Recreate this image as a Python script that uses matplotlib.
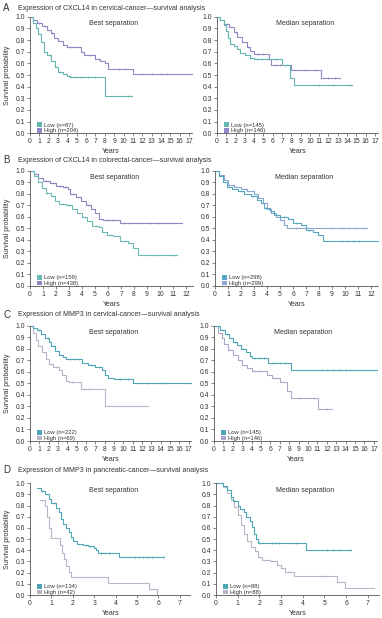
import matplotlib
matplotlib.use("Agg")
import matplotlib.pyplot as plt
import numpy as np
from matplotlib.patches import Patch

plt.rcParams['font.family'] = ['Liberation Sans', 'DejaVu Sans']

# ---- data: (times, survival after each time), censor times ----
# A  CXCL14 cervical, best
a_best_low_t = [0, 0.3, 0.6, 0.9, 1.2, 1.5, 1.8, 2.2, 2.7, 3.0, 3.5, 4.0, 4.3, 8.0, 10.9]
a_best_low_s = [1.0, 0.95, 0.90, 0.85, 0.78, 0.70, 0.67, 0.62, 0.57, 0.53, 0.51, 0.49, 0.48, 0.32, 0.32]
a_best_low_c = [2.1, 3.2, 4.2, 4.8, 5.5, 6.2, 7.0, 10.5]
a_best_high_t = [0, 0.3, 0.8, 1.3, 1.8, 2.2, 2.6, 3.0, 3.5, 4.0, 5.5, 5.8, 7.0, 7.5, 8.0, 8.3, 11.0, 17.3]
a_best_high_s = [1.0, 0.97, 0.95, 0.92, 0.89, 0.86, 0.82, 0.79, 0.76, 0.74, 0.70, 0.67, 0.64, 0.62, 0.60, 0.55, 0.51, 0.51]
a_best_high_c = [1.0, 1.6, 2.4, 4.3, 4.8, 6.4, 7.4, 9.5, 10.2, 12.0, 13.0, 14.0, 14.7]
# A  CXCL14 cervical, median
a_med_low_t = [0, 0.3, 0.7, 1.0, 1.2, 1.4, 1.8, 2.1, 2.5, 3.0, 3.5, 4.0, 7.0, 7.9, 8.3, 14.5]
a_med_low_s = [1.0, 0.97, 0.93, 0.88, 0.82, 0.77, 0.75, 0.72, 0.69, 0.67, 0.65, 0.64, 0.59, 0.47, 0.41, 0.41]
a_med_low_c = [3.6, 4.3, 4.8, 5.5, 6.3, 7.4, 11.0, 12.5, 14.3]
a_med_high_t = [0, 0.3, 0.8, 1.3, 1.8, 2.2, 2.7, 3.2, 3.6, 4.0, 5.6, 5.8, 8.0, 11.2, 13.2]
a_med_high_s = [1.0, 0.97, 0.94, 0.91, 0.87, 0.83, 0.78, 0.74, 0.71, 0.68, 0.64, 0.59, 0.54, 0.47, 0.47]
a_med_high_c = [1.1, 2.0, 3.3, 4.4, 5.0, 6.2, 6.8, 9.5, 10.5, 12.0, 12.7]

# B  CXCL14 colorectal, best
b_best_low_t = [0, 0.3, 0.6, 0.9, 1.2, 1.6, 1.9, 2.2, 2.8, 3.2, 3.6, 4.0, 4.4, 4.8, 5.3, 5.5, 5.9, 6.4, 6.9, 7.5, 7.9, 8.3, 11.3]
b_best_low_s = [1.0, 0.95, 0.90, 0.85, 0.81, 0.78, 0.74, 0.71, 0.70, 0.67, 0.63, 0.60, 0.56, 0.52, 0.51, 0.47, 0.44, 0.43, 0.39, 0.37, 0.33, 0.27, 0.27]
b_best_low_c = [1.3, 2.5, 3.0, 4.2, 5.1, 6.2, 7.6, 9.5, 10.9, 11.1]
b_best_high_t = [0, 0.3, 0.6, 1.0, 1.5, 2.0, 2.5, 2.9, 3.1, 3.5, 3.9, 4.3, 4.7, 5.0, 5.3, 5.6, 6.9, 11.7]
b_best_high_s = [1.0, 0.97, 0.94, 0.91, 0.89, 0.87, 0.86, 0.84, 0.80, 0.77, 0.74, 0.70, 0.67, 0.63, 0.58, 0.57, 0.55, 0.55]
b_best_high_c = [1.2, 1.8, 2.3, 2.7, 3.3, 4.5, 6.0, 6.4, 7.2, 7.6, 8.5, 9.3, 9.9, 10.4, 11.0]
# B  CXCL14 colorectal, median
b_med_low_t = [0, 0.3, 0.6, 0.9, 1.3, 1.8, 2.2, 2.8, 3.2, 3.5, 3.8, 4.2, 4.5, 5.0, 5.6, 6.0, 6.6, 7.0, 7.5, 7.9, 8.3, 12.5]
b_med_low_s = [1.0, 0.95, 0.90, 0.86, 0.84, 0.82, 0.80, 0.78, 0.75, 0.72, 0.68, 0.65, 0.62, 0.60, 0.58, 0.55, 0.53, 0.49, 0.47, 0.44, 0.39, 0.39]
b_med_low_c = [1.1, 2.0, 2.9, 3.9, 5.3, 6.3, 7.2, 9.8, 10.2, 10.6, 11.1]
b_med_high_t = [0, 0.3, 0.7, 1.0, 1.5, 2.0, 2.5, 3.0, 3.3, 3.7, 4.0, 4.3, 4.7, 5.0, 5.3, 5.5, 11.7]
b_med_high_s = [1.0, 0.96, 0.92, 0.88, 0.86, 0.84, 0.82, 0.80, 0.76, 0.72, 0.67, 0.63, 0.60, 0.57, 0.53, 0.50, 0.50]
b_med_high_c = [1.4, 2.4, 2.9, 6.2, 7.0, 9.0, 9.8, 10.3, 10.8, 11.4]

# C  MMP3 cervical, best
c_best_low_t = [0, 0.3, 0.8, 1.2, 1.6, 2.0, 2.3, 2.7, 3.1, 3.5, 3.9, 5.6, 6.2, 7.0, 7.7, 8.0, 8.4, 9.0, 11.0, 17.3]
c_best_low_s = [1.0, 0.98, 0.96, 0.93, 0.89, 0.86, 0.82, 0.78, 0.75, 0.73, 0.71, 0.68, 0.66, 0.64, 0.62, 0.57, 0.55, 0.54, 0.50, 0.50]
c_best_low_c = [1.0, 1.9, 2.6, 4.3, 4.8, 5.3, 6.5, 7.4, 9.6, 10.5, 11.6, 12.5, 13.3, 14.0, 14.5, 17.0]
c_best_high_t = [0, 0.3, 0.6, 0.9, 1.3, 1.7, 2.0, 2.5, 3.1, 3.4, 3.9, 4.2, 5.5, 8.0, 12.7]
c_best_high_s = [1.0, 0.94, 0.88, 0.82, 0.77, 0.71, 0.67, 0.64, 0.62, 0.57, 0.52, 0.51, 0.45, 0.30, 0.30]
c_best_high_c = [2.8, 4.5, 5.8, 6.3]
# C  MMP3 cervical, median
c_med_low_t = [0, 0.6, 1.2, 1.6, 2.0, 2.4, 2.9, 3.4, 3.8, 4.0, 5.7, 8.2, 17.3]
c_med_low_s = [1.0, 0.96, 0.93, 0.89, 0.86, 0.83, 0.80, 0.77, 0.74, 0.72, 0.68, 0.62, 0.62]
c_med_low_c = [1.0, 1.4, 2.2, 3.1, 4.4, 4.9, 5.3, 6.3, 7.0, 7.6, 11.5, 12.0, 12.7, 13.4, 14.0, 14.5]
c_med_high_t = [0, 0.4, 0.8, 1.1, 1.5, 2.0, 2.5, 3.0, 3.5, 4.0, 5.6, 6.2, 7.0, 7.8, 8.2, 11.1, 12.6]
c_med_high_s = [1.0, 0.94, 0.89, 0.84, 0.79, 0.75, 0.70, 0.66, 0.63, 0.61, 0.57, 0.55, 0.51, 0.43, 0.37, 0.28, 0.28]
c_med_high_c = [4.3, 4.9, 6.4, 9.2, 10.6, 12.0]

# D  MMP3 pancreatic, best
d_best_low_t = [0.35, 0.5, 0.7, 0.9, 1.0, 1.2, 1.35, 1.45, 1.55, 1.7, 1.8, 1.9, 2.0, 2.2, 2.5, 2.7, 3.0, 3.1, 3.2, 4.15, 6.25]
d_best_low_s = [0.96, 0.93, 0.90, 0.86, 0.82, 0.78, 0.74, 0.68, 0.64, 0.60, 0.56, 0.52, 0.48, 0.46, 0.45, 0.44, 0.42, 0.40, 0.38, 0.34, 0.34]
d_best_low_c = [0.55, 1.1, 1.9, 2.6, 2.8, 3.3, 3.5, 3.7, 4.9, 5.1, 5.3, 5.5, 5.7, 6.2]
d_best_high_t = [0.45, 0.7, 0.8, 0.9, 1.0, 1.4, 1.5, 1.6, 1.7, 1.8, 1.9, 3.65, 5.55, 5.95]
d_best_high_s = [0.85, 0.80, 0.70, 0.60, 0.51, 0.45, 0.38, 0.32, 0.26, 0.21, 0.16, 0.11, 0.05, 0.0]
d_best_high_c = []
# D  MMP3 pancreatic, median
d_med_low_t = [0, 0.3, 0.5, 0.7, 0.8, 1.0, 1.1, 1.3, 1.4, 1.55, 1.65, 1.75, 1.85, 1.95, 4.15, 6.25]
d_med_low_s = [1.0, 0.98, 0.94, 0.88, 0.84, 0.80, 0.77, 0.74, 0.70, 0.66, 0.61, 0.55, 0.50, 0.47, 0.40, 0.40]
d_med_low_c = [2.0, 2.6, 2.7, 2.9, 3.4, 3.7, 5.1, 5.4, 5.7, 6.2]
d_med_high_t = [0, 0.3, 0.5, 0.7, 0.85, 1.0, 1.15, 1.3, 1.45, 1.6, 1.8, 1.95, 2.1, 2.5, 2.8, 3.0, 3.2, 3.6, 5.6, 5.95, 7.3]
d_med_high_s = [1.0, 0.97, 0.91, 0.85, 0.79, 0.72, 0.63, 0.55, 0.48, 0.43, 0.39, 0.34, 0.31, 0.30, 0.27, 0.24, 0.21, 0.17, 0.12, 0.06, 0.06]
d_med_high_c = [2.2, 3.3, 3.4, 4.9]

titles = [
    "Expression of CXCL14 in cervical-cancer\u2014survival analysis",
    "Expression of CXCL14 in colorectal-cancer\u2014survival analysis",
    "Expression of MMP3 in cervical-cancer\u2014survival analysis",
    "Expression of MMP3 in pancreatic-cancer\u2014survival analysis",
]
letters = ["A", "B", "C", "D"]
legend_labels = [
    [("Low (n=87)", "High (n=204)"), ("Low (n=145)", "High (n=146)")],
    [("Low (n=159)", "High (n=438)"), ("Low (n=298)", "High (n=299)")],
    [("Low (n=222)", "High (n=69)"), ("Low (n=145)", "High (n=146)")],
    [("Low (n=134)", "High (n=42)"), ("Low (n=88)", "High (n=88)")],
]
curves = [
    [((a_best_low_t, a_best_low_s, a_best_low_c), (a_best_high_t, a_best_high_s, a_best_high_c)),
     ((a_med_low_t, a_med_low_s, a_med_low_c), (a_med_high_t, a_med_high_s, a_med_high_c))],
    [((b_best_low_t, b_best_low_s, b_best_low_c), (b_best_high_t, b_best_high_s, b_best_high_c)),
     ((b_med_low_t, b_med_low_s, b_med_low_c), (b_med_high_t, b_med_high_s, b_med_high_c))],
    [((c_best_low_t, c_best_low_s, c_best_low_c), (c_best_high_t, c_best_high_s, c_best_high_c)),
     ((c_med_low_t, c_med_low_s, c_med_low_c), (c_med_high_t, c_med_high_s, c_med_high_c))],
    [((d_best_low_t, d_best_low_s, d_best_low_c), (d_best_high_t, d_best_high_s, d_best_high_c)),
     ((d_med_low_t, d_med_low_s, d_med_low_c), (d_med_high_t, d_med_high_s, d_med_high_c))],
]
xmax = [17, 12, 17, 7]
xlims = [17.3, 12.5, 17.3, 7.5]

low_colors = ['#63b5ae', '#6dbbb4', '#4fa5b5', '#4fa5b5']
high_colors = ['#9089c6', '#8e86c2', '#b9b5c9', '#b9b5c9']
low_colors_r = ['#63b5ae', '#5aa5c2', '#4fa5b5', '#4fa5b5']
high_colors_r = ['#9089c6', '#8aa6d2', '#ada7cc', '#b9b5c9']

# axes placement in pixels: (left x0, right x0, y of 1.0, y of 0.0, px per year left, right)
W, H = 382, 618
rows = [
    (30, 217, 16.7, 133.3, 9.35, 9.29),
    (30, 215, 170.7, 286.0, 13.0, 13.0),
    (30, 214, 325.7, 441.0, 9.33, 9.4),
    (30, 216, 483.3, 595.0, 21.4, 21.67),
]
title_y = [8, 160, 315, 470]

fig = plt.figure(figsize=(W / 100, H / 100), dpi=100)
txt = '#333333'

for r in range(4):
    xl, xr, ytop, ybot, pl, pr = rows[r]
    fig.text(3 / W, 1 - title_y[r] / H, letters[r], fontsize=7, color=txt, va='center', ha='left')
    fig.text(18 / W, 1 - title_y[r] / H, titles[r], fontsize=5.0, color=txt, va='center', ha='left')
    for c in range(2):
        x0 = xl if c == 0 else xr
        ppy = pl if c == 0 else pr
        ax = fig.add_axes([x0 / W, 1 - ybot / H, xlims[r] * ppy / W, (ybot - ytop) / H])
        lc = low_colors[r] if c == 0 else low_colors_r[r]
        hc = high_colors[r] if c == 0 else high_colors_r[r]
        (lt, ls, lcen), (ht, hs, hcen) = curves[r][c]
        for t, s, cen, col in [(ht, hs, hcen, hc), (lt, ls, lcen, lc)]:
            t = np.array(t)
            s = np.array(s)
            ax.step(t, s, where='post', color=col, lw=0.8, clip_on=False)
            if len(cen):
                idx = np.searchsorted(t, cen, side='right') - 1
                ax.plot(cen, s[idx], ls='none', marker='|', ms=1.8, mew=0.5, color=col, clip_on=False)
        ax.set_xlim(0, xlims[r])
        ax.set_ylim(0, 1.0)
        ax.set_xticks(np.arange(0, xmax[r] + 1))
        ax.set_yticks(np.arange(0, 11) / 10)
        ax.set_yticklabels([f"{v / 10:.1f}" for v in range(11)])
        for sp in ['top', 'right']:
            ax.spines[sp].set_visible(False)
        for sp in ['left', 'bottom']:
            ax.spines[sp].set_linewidth(0.6)
            ax.spines[sp].set_color('#555555')
        ax.tick_params(labelsize=4.9, length=2, width=0.5, pad=1.5, colors='#555555', labelcolor=txt)
        ax.set_xlabel("Years", fontsize=5.0, color=txt, labelpad=2)
        if c == 0:
            ax.set_ylabel("Survival probability", fontsize=5.0, color=txt, labelpad=3)
        ax.text(0.52 if c == 0 else 0.55, 0.94, "Best separation" if c == 0 else "Median separation",
                transform=ax.transAxes, ha='center', va='center', fontsize=5.0, color=txt)
        lab = legend_labels[r][c]
        handles = [Patch(facecolor=lc, edgecolor='none', label=lab[0]),
                   Patch(facecolor=hc, edgecolor='none', label=lab[1])]
        ax.legend(handles=handles, loc='lower left', bbox_to_anchor=(0.02, -0.03), fontsize=4.2,
                  frameon=False, handlelength=0.9, handleheight=0.8, handletextpad=0.3,
                  labelspacing=0.05, borderpad=0.1, labelcolor=txt)

fig.savefig("out.png", dpi=100)
